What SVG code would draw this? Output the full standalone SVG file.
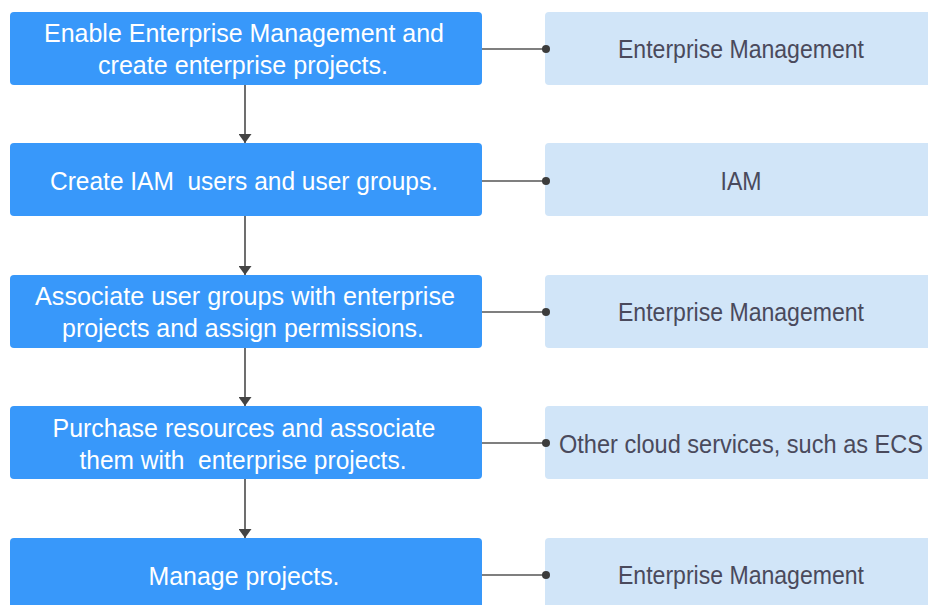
<svg xmlns="http://www.w3.org/2000/svg" width="928" height="605" viewBox="0 0 928 605">
<style>
.step{fill:#3898fa}
.svc{fill:#d1e5f8}
.st{font-family:"Liberation Sans",Arial,sans-serif;font-size:25.5px;fill:#ffffff;text-anchor:middle}
.sv{font-family:"Liberation Sans",Arial,sans-serif;font-size:25.5px;fill:#4a4a5c;text-anchor:middle}
.ln{stroke:#555555;stroke-width:1.7;fill:none}
.dot{fill:#3c3c3c}
</style>
<defs>
<marker id="ah" viewBox="0 0 9 13" refX="9" refY="6.5" markerWidth="9" markerHeight="13" markerUnits="userSpaceOnUse" orient="auto-start-reverse">
<path d="M0,0 L9,6.5 L0,13 Z" fill="#444444"/>
</marker>
</defs>
<g id="step1">
<rect class="step" x="10" y="12" width="472" height="73" rx="4"/>
<text class="st" x="244" y="42" textLength="400" lengthAdjust="spacingAndGlyphs">Enable Enterprise Management and</text>
<text class="st" x="243" y="74" textLength="290" lengthAdjust="spacingAndGlyphs">create enterprise projects.</text>
</g>
<g id="step2">
<rect class="step" x="10" y="143" width="472" height="73" rx="4"/>
<text class="st" x="244" y="190" xml:space="preserve" textLength="388" lengthAdjust="spacingAndGlyphs">Create IAM  users and user groups.</text>
</g>
<g id="step3">
<rect class="step" x="10" y="275" width="472" height="73" rx="4"/>
<text class="st" x="245" y="305" textLength="420" lengthAdjust="spacingAndGlyphs">Associate user groups with enterprise</text>
<text class="st" x="243" y="337" textLength="362" lengthAdjust="spacingAndGlyphs">projects and assign permissions.</text>
</g>
<g id="step4">
<rect class="step" x="10" y="406" width="472" height="73" rx="4"/>
<text class="st" x="244" y="437" textLength="383" lengthAdjust="spacingAndGlyphs">Purchase resources and associate</text>
<text class="st" x="243" y="469" xml:space="preserve" textLength="327" lengthAdjust="spacingAndGlyphs">them with  enterprise projects.</text>
</g>
<g id="step5">
<rect class="step" x="10" y="538" width="472" height="73" rx="4"/>
<text class="st" x="244" y="585" textLength="191" lengthAdjust="spacingAndGlyphs">Manage projects.</text>
</g>
<g id="svc1">
<rect class="svc" x="545" y="12" width="392" height="73" rx="4"/>
<text class="sv" x="741" y="58" textLength="246" lengthAdjust="spacingAndGlyphs">Enterprise Management</text>
</g>
<g id="svc2">
<rect class="svc" x="545" y="143" width="392" height="73" rx="4"/>
<text class="sv" x="741" y="190" textLength="41" lengthAdjust="spacingAndGlyphs">IAM</text>
</g>
<g id="svc3">
<rect class="svc" x="545" y="275" width="392" height="73" rx="4"/>
<text class="sv" x="741" y="321" textLength="246" lengthAdjust="spacingAndGlyphs">Enterprise Management</text>
</g>
<g id="svc4">
<rect class="svc" x="545" y="406" width="392" height="73" rx="4"/>
<text class="sv" x="741" y="453" textLength="364" lengthAdjust="spacingAndGlyphs">Other cloud services, such as ECS</text>
</g>
<g id="svc5">
<rect class="svc" x="545" y="538" width="392" height="73" rx="4"/>
<text class="sv" x="741" y="584" textLength="246" lengthAdjust="spacingAndGlyphs">Enterprise Management</text>
</g>
<g id="connectors">
<line class="ln" x1="245" y1="85" x2="245" y2="143" marker-end="url(#ah)"/>
<line class="ln" x1="245" y1="216" x2="245" y2="275" marker-end="url(#ah)"/>
<line class="ln" x1="245" y1="348" x2="245" y2="406" marker-end="url(#ah)"/>
<line class="ln" x1="245" y1="479" x2="245" y2="538" marker-end="url(#ah)"/>
<line class="ln" x1="482" y1="49" x2="546" y2="49"/>
<line class="ln" x1="482" y1="181" x2="546" y2="181"/>
<line class="ln" x1="482" y1="312" x2="546" y2="312"/>
<line class="ln" x1="482" y1="443" x2="546" y2="443"/>
<line class="ln" x1="482" y1="575" x2="546" y2="575"/>
<circle class="dot" cx="546" cy="49" r="4"/>
<circle class="dot" cx="546" cy="181" r="4"/>
<circle class="dot" cx="546" cy="312" r="4"/>
<circle class="dot" cx="546" cy="443" r="4"/>
<circle class="dot" cx="546" cy="575" r="4"/>
</g>
</svg>
